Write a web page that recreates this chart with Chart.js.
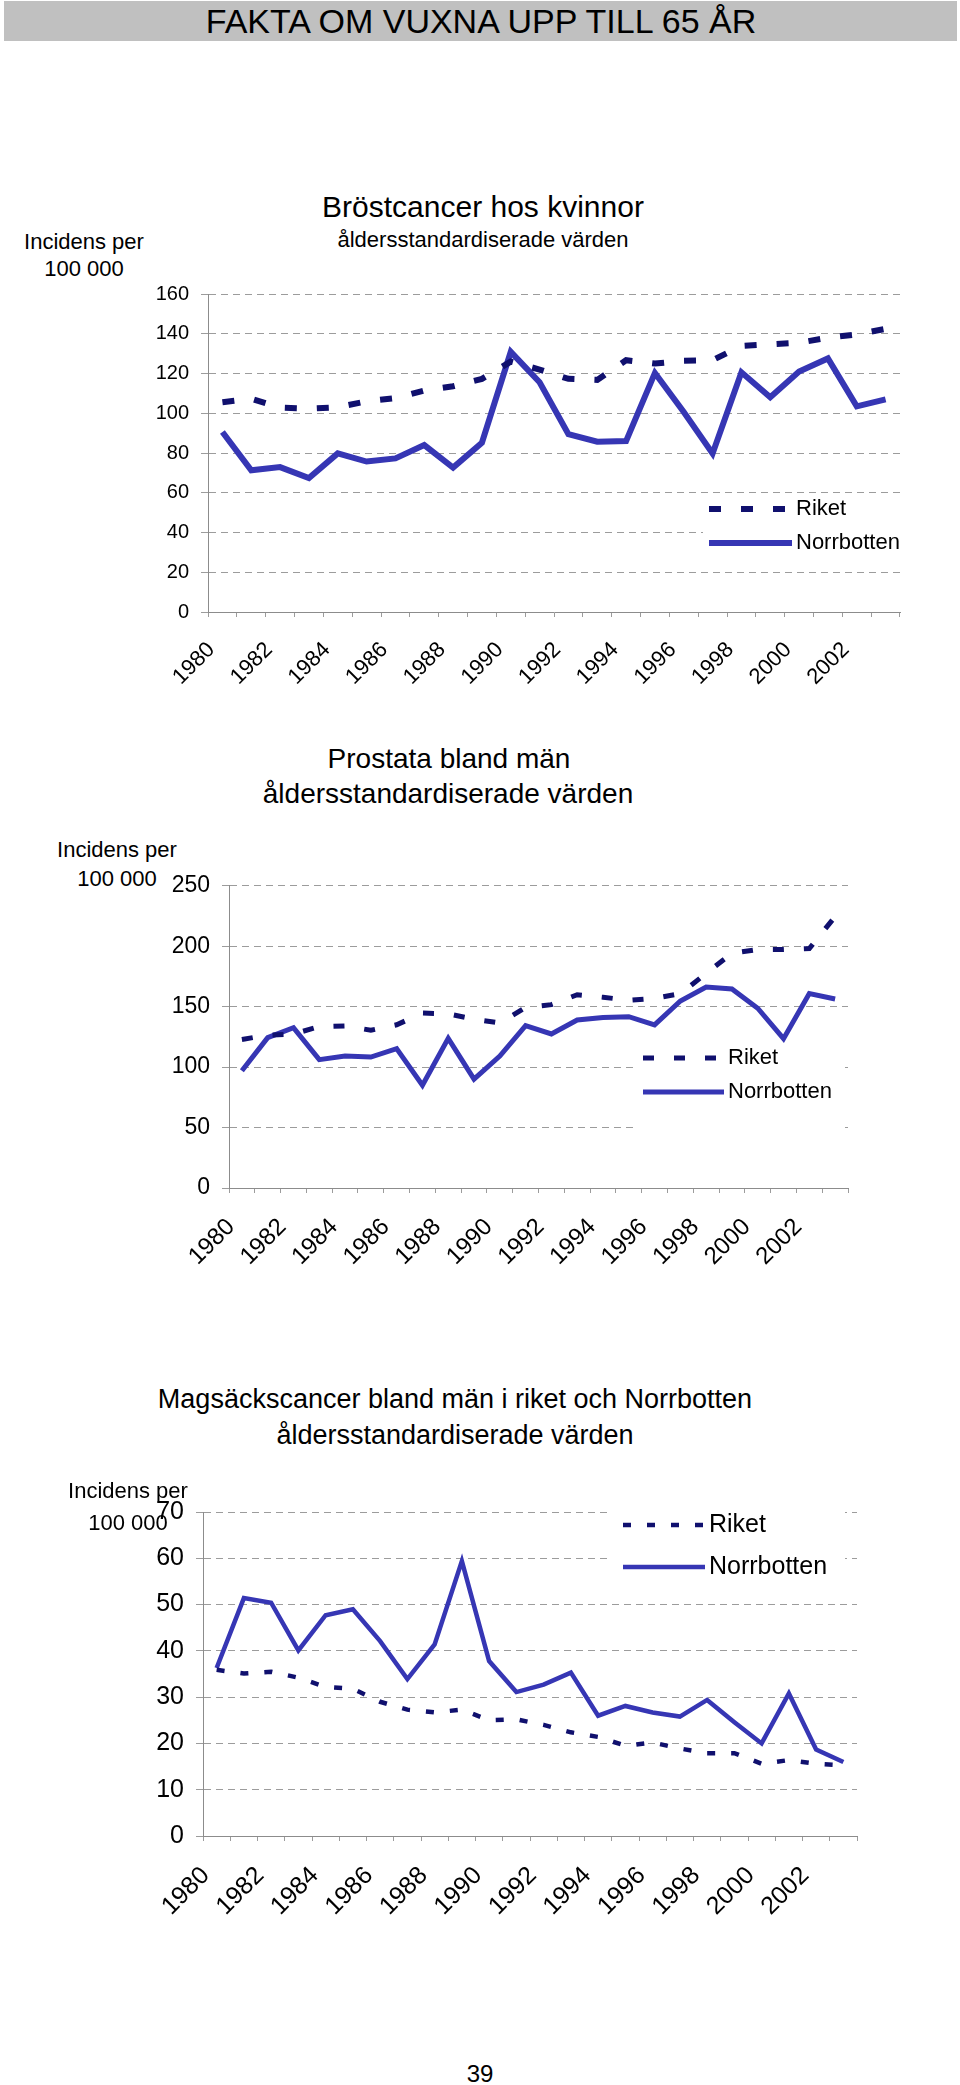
<!DOCTYPE html>
<html lang="sv">
<head>
<meta charset="utf-8">
<title>Fakta om vuxna upp till 65 år</title>
<script src="https://cdn.jsdelivr.net/npm/chart.js@4/dist/chart.umd.min.js"></script>
<style>
  body { margin: 0; background: #fff; font-family: "Liberation Sans", Arial, sans-serif; }
  #page { position: relative; width: 960px; height: 2085px; overflow: hidden; }
  #header { position: absolute; left: 4px; top: 1px; width: 953px; height: 40px; background: #c0c0c0; }
  .txt { position: absolute; white-space: nowrap; transform: translate(-50%, -50%); color: #000; line-height: 1.15; }
  canvas { position: absolute; left: 0; }
</style>
</head>
<body>
<div id="page">
  <div id="header"></div>
  <div class="txt" style="left:481px;top:22px;font-size:34px">FAKTA OM VUXNA UPP TILL 65 ÅR</div>

  <div class="txt" style="left:483px;top:207px;font-size:30px">Bröstcancer hos kvinnor</div>
  <div class="txt" style="left:483px;top:240px;font-size:22px">åldersstandardiserade värden</div>
  <div class="txt" style="left:84px;top:242px;font-size:22px">Incidens per</div>
  <div class="txt" style="left:84px;top:269px;font-size:22px">100 000</div>
  <canvas id="c1" width="960" height="440" style="top:270px"></canvas>

  <div class="txt" style="left:449px;top:759px;font-size:28px">Prostata bland män</div>
  <div class="txt" style="left:448px;top:794px;font-size:28px">åldersstandardiserade värden</div>
  <div class="txt" style="left:117px;top:850px;font-size:22px">Incidens per</div>
  <div class="txt" style="left:117px;top:879px;font-size:22px">100 000</div>
  <canvas id="c2" width="960" height="440" style="top:860px"></canvas>

  <div class="txt" style="left:455px;top:1400px;font-size:27px">Magsäckscancer bland män i riket och Norrbotten</div>
  <div class="txt" style="left:455px;top:1436px;font-size:27px">åldersstandardiserade värden</div>
  <canvas id="c3" width="960" height="440" style="top:1485px"></canvas>
  <div class="txt" style="left:128px;top:1491px;font-size:22px">Incidens per</div>
  <div class="txt" style="left:128px;top:1523px;font-size:22px">100 000</div>

  <div class="txt" style="left:480px;top:2074px;font-size:24px">39</div>
</div>

<script>
// år 1980-2003
const years = ["1980","1981","1982","1983","1984","1985","1986","1987","1988","1989","1990","1991",
               "1992","1993","1994","1995","1996","1997","1998","1999","2000","2001","2002","2003"];

// Bröstcancer hos kvinnor
const brostRiket = [105.5, 107.3, 102.8, 102.3, 103, 106, 107.6, 111.4, 113.6, 117.3, 126, 122,
                    117.3, 116.8, 126.7, 125, 126.4, 126.7, 133.9, 134.7, 135.5, 138, 139.7, 142.5];
const brostNorrbotten = [90.6, 71.3, 72.9, 67.4, 79.8, 75.7, 77.3, 84, 72.7, 85.2, 130.9, 115.6,
                         89.5, 85.7, 86, 120.3, 100.6, 79.8, 120.6, 108, 121, 127.6, 103.5, 107];

// Prostata bland män
const prostataRiket = [122.9, 126.5, 127.4, 133.5, 134.1, 130.5, 135, 144.7, 144.1, 139.6, 136.5, 149.3,
                       151.7, 159.9, 157.8, 155.3, 156.9, 160.8, 177.5, 194.2, 197.2, 197.2, 198.1, 224.5];
const prostataNorrbotten = [97, 124.4, 132.6, 106.2, 109.2, 108.3, 115.3, 85, 123.8, 90.1, 109.2, 134.4,
                            127.4, 139, 141, 141.7, 135, 154.7, 166.3, 164.7, 148.7, 123.5, 160.8, 156.3];

// Magsäckscancer bland män
const magRiket = [35.9, 35.1, 35.5, 34.2, 32.2, 31.8, 29, 27.3, 26.7, 27.3, 25, 25.2,
                  24, 22.4, 21.4, 19.5, 20.2, 18.9, 17.9, 17.9, 15.6, 16.4, 15.6, 15.3];
const magNorrbotten = [36.3, 51.4, 50.4, 40.1, 47.7, 49, 42.1, 33.9, 41.4, 59.4, 37.8, 31.1,
                       32.7, 35.3, 26, 28.1, 26.7, 25.8, 29.4, 24.6, 20, 30.8, 18.7, 16];

const RIKET_COLOR = "#10106e";
const NORR_COLOR = "#3636b4";
const GRID_COLOR = "#9c9c9c";
const AXIS_COLOR = "#8c8c8c";
const FONT = "'Liberation Sans', Arial, sans-serif";

Chart.defaults.font.family = FONT;
Chart.defaults.color = "#000";

// vit legendruta inne i diagrammet, som i originalet
const boxLegend = {
  id: "boxLegend",
  beforeDatasetsDraw(chart, args, o) {
    if (!o || !o.box) return;
    const ctx = chart.ctx;
    ctx.save();
    ctx.fillStyle = "#fff";
    ctx.fillRect(o.box[0], o.box[1], o.box[2], o.box[3]);
    chart.data.datasets.forEach((ds, i) => {
      const y = o.rows[i];
      ctx.beginPath();
      ctx.setLineDash(ds.borderDash || []);
      ctx.lineCap = "butt";
      ctx.strokeStyle = ds.borderColor;
      ctx.lineWidth = ds.borderWidth;
      ctx.moveTo(o.x0, y);
      ctx.lineTo(o.x1, y);
      ctx.stroke();
      ctx.setLineDash([]);
      ctx.fillStyle = "#000";
      ctx.font = o.fontSize + "px " + FONT;
      ctx.textBaseline = "middle";
      ctx.textAlign = "left";
      ctx.fillText(ds.label, o.textX, y);
    });
    ctx.restore();
  }
};

function makeChart(id, riket, norrbotten, o) {
  return new Chart(document.getElementById(id), {
    type: "line",
    data: {
      labels: years,
      datasets: [
        { label: "Riket", data: riket, borderColor: RIKET_COLOR, borderWidth: o.lineWidth,
          borderDash: o.dash, pointRadius: 0, fill: false, tension: 0 },
        { label: "Norrbotten", data: norrbotten, borderColor: NORR_COLOR, borderWidth: o.lineWidth,
          pointRadius: 0, fill: false, tension: 0 }
      ]
    },
    options: {
      responsive: false,
      animation: false,
      devicePixelRatio: 1,
      layout: { padding: { top: o.padTop, right: o.padRight, left: 0, bottom: 0 } },
      plugins: {
        legend: { display: false },
        tooltip: { enabled: false },
        boxLegend: o.legend
      },
      scales: {
        x: {
          offset: true,
          grid: { offset: true, drawOnChartArea: false, tickLength: 5, color: GRID_COLOR },
          border: { color: AXIS_COLOR },
          ticks: {
            autoSkip: false, minRotation: 45, maxRotation: 45,
            labelOffset: o.labelOffset, padding: 20,
            font: { size: o.xTickSize },
            callback: function (v, i) { return i % 2 === 0 ? this.getLabelForValue(v) : ""; }
          },
          afterFit: s => { s.height = o.xHeight; }
        },
        y: {
          min: 0, max: o.max,
          grid: { color: GRID_COLOR, tickLength: 7, tickBorderDash: [] },
          border: { color: AXIS_COLOR, dash: [7, 5] },
          ticks: { stepSize: o.step, padding: 12, font: { size: o.yTickSize } },
          afterFit: s => { s.width = o.yWidth; }
        }
      }
    },
    plugins: [boxLegend]
  });
}

makeChart("c1", brostRiket, brostNorrbotten, {
  max: 160, step: 20, lineWidth: 6, dash: [12, 20], yTickSize: 20, xTickSize: 22,
  padTop: 22, padRight: 60, yWidth: 208, xHeight: 98, labelOffset: -11,
  legend: { box: [703, 227, 200, 70], rows: [239, 273], x0: 709, x1: 792, textX: 796, fontSize: 22 }
});

makeChart("c2", prostataRiket, prostataNorrbotten, {
  max: 250, step: 50, lineWidth: 5, dash: [11, 20], yTickSize: 23, xTickSize: 24,
  padTop: 23, padRight: 112, yWidth: 229, xHeight: 112, labelOffset: -11,
  legend: { box: [637, 180, 208, 95], rows: [198, 232], x0: 643, x1: 724, textX: 728, fontSize: 22 }
});

makeChart("c3", magRiket, magNorrbotten, {
  max: 70, step: 10, lineWidth: 4.5, dash: [8, 16], yTickSize: 25, xTickSize: 25,
  padTop: 25, padRight: 103, yWidth: 203, xHeight: 89, labelOffset: -11,
  legend: { box: [612, 15, 233, 90], rows: [40, 82], x0: 623, x1: 705, textX: 709, fontSize: 25 }
});
</script>
</body>
</html>
